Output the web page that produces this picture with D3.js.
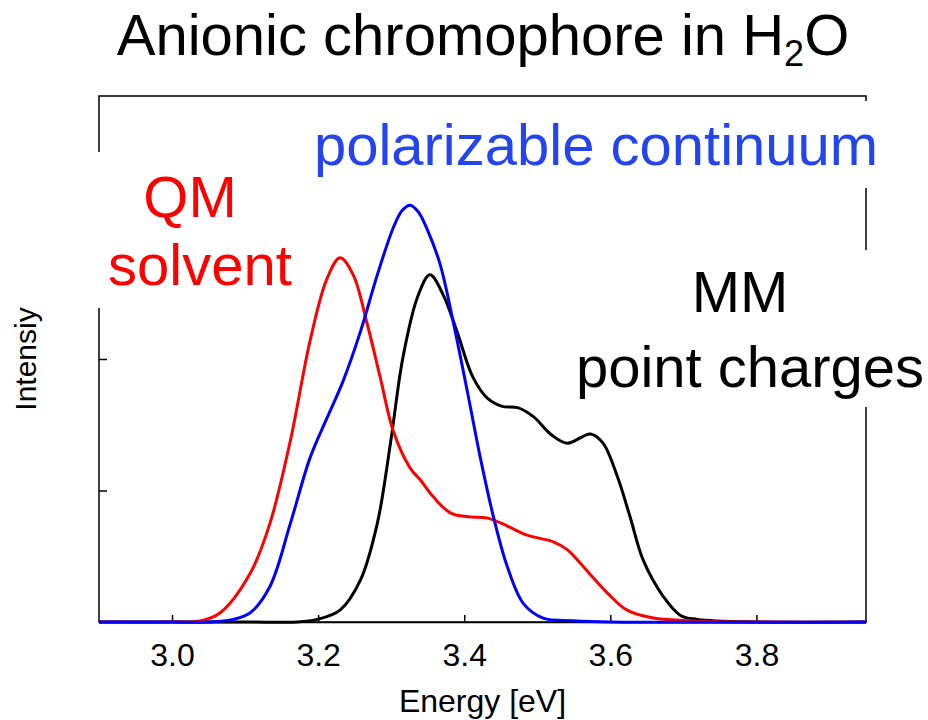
<!DOCTYPE html>
<html>
<head>
<meta charset="utf-8">
<script src="https://cdn.jsdelivr.net/npm/d3@7"></script>
<style>
  body { margin: 0; background: #fff; }
  svg { font-family: "Liberation Sans", Arial, Helvetica, sans-serif; }
</style>
</head>
<body>
<script>
// spectra (energy in eV, intensity in arbitrary units)
var qmEnergy    = [2.90, 3.00, 3.04, 3.066, 3.107, 3.134, 3.162, 3.189, 3.212, 3.230, 3.248, 3.267, 3.285, 3.303, 3.326, 3.340, 3.358, 3.381, 3.405, 3.432, 3.459, 3.486, 3.522, 3.541, 3.568, 3.596, 3.623, 3.659, 3.705, 3.80, 3.95];
var qmIntensity = [0.00, 0.00, 0.01, 0.07, 0.37, 0.75, 1.38, 2.14, 2.61, 2.77, 2.64, 2.27, 1.86, 1.45, 1.17, 1.08, 0.95, 0.83, 0.80, 0.79, 0.73, 0.66, 0.61, 0.55, 0.39, 0.22, 0.09, 0.03, 0.01, 0.00, 0.00];

var pcmEnergy    = [2.90, 3.00, 3.05, 3.084, 3.107, 3.134, 3.162, 3.189, 3.212, 3.234, 3.258, 3.281, 3.303, 3.315, 3.326, 3.337, 3.349, 3.367, 3.385, 3.404, 3.422, 3.440, 3.459, 3.481, 3.508, 3.549, 3.60, 3.95];
var pcmIntensity = [0.00, 0.00, 0.00, 0.02, 0.07, 0.27, 0.75, 1.25, 1.55, 1.83, 2.21, 2.64, 3.00, 3.13, 3.17, 3.12, 2.99, 2.72, 2.28, 1.76, 1.25, 0.80, 0.42, 0.14, 0.03, 0.01, 0.00, 0.00];

var mmEnergy    = [2.90, 3.10, 3.17, 3.199, 3.230, 3.258, 3.281, 3.299, 3.316, 3.336, 3.353, 3.371, 3.390, 3.412, 3.432, 3.452, 3.473, 3.495, 3.518, 3.541, 3.573, 3.590, 3.610, 3.627, 3.645, 3.673, 3.696, 3.719, 3.80, 3.95];
var mmIntensity = [0.00, 0.00, 0.00, 0.02, 0.09, 0.32, 0.75, 1.36, 2.01, 2.47, 2.64, 2.49, 2.21, 1.86, 1.70, 1.64, 1.63, 1.56, 1.43, 1.36, 1.43, 1.36, 1.10, 0.80, 0.47, 0.19, 0.05, 0.02, 0.00, 0.00];

var xTicks = [3.0, 3.2, 3.4, 3.6, 3.8];
var yTicks = [1, 2, 3];

var svgWidth = 928;
var svgHeight = 720;

var margin = { top: 96, right: 62, bottom: 98, left: 99 };
var chartWidth = svgWidth - margin.left - margin.right;
var chartHeight = svgHeight - margin.top - margin.bottom;

var svg = d3.select("body")
  .append("svg")
  .attr("width", svgWidth)
  .attr("height", svgHeight);

var chartGroup = svg.append("g")
  .attr("transform", `translate(${margin.left}, ${margin.top})`);

var xScale = d3.scaleLinear()
  .domain([2.9, 3.95])
  .range([0, chartWidth]);

var yScale = d3.scaleLinear()
  .domain([0, 4])
  .range([chartHeight, 0]);

// frame
chartGroup.append("rect")
  .attr("width", chartWidth)
  .attr("height", chartHeight)
  .attr("fill", "none")
  .attr("stroke", "black")
  .attr("stroke-width", 1.5);

// bottom axis, ticks pointing inwards
var bottomAxis = d3.axisBottom(xScale)
  .tickValues(xTicks)
  .tickFormat(d3.format(".1f"))
  .tickSizeInner(-7)
  .tickSizeOuter(0)
  .tickPadding(21);

var xAxisG = chartGroup.append("g")
  .attr("transform", `translate(0, ${chartHeight})`)
  .call(bottomAxis);
xAxisG.select(".domain").attr("stroke-width", 1.5);
xAxisG.selectAll(".tick line").attr("stroke-width", 1.5);
xAxisG.selectAll("text")
  .attr("font-size", "32px")
  .attr("font-family", "Liberation Sans, Arial, sans-serif")
  .attr("fill", "black");

var leftAxis = d3.axisLeft(yScale)
  .tickValues(yTicks)
  .tickFormat("")
  .tickSizeInner(-8)
  .tickSizeOuter(0);

var yAxisG = chartGroup.append("g").call(leftAxis);
yAxisG.select(".domain").remove();
yAxisG.selectAll(".tick line").attr("stroke-width", 1.5);

// white boxes behind the labels (they hide parts of the frame)
svg.append("rect").attr("x", 85).attr("y", 152).attr("width", 215).attr("height", 156).attr("fill", "white");
svg.append("rect").attr("x", 300).attr("y", 101).attr("width", 600).attr("height", 87).attr("fill", "white");
svg.append("rect").attr("x", 560).attr("y", 250).attr("width", 368).attr("height", 157).attr("fill", "white");

// spectra
var series = [
  { energy: mmEnergy, intensity: mmIntensity, color: "black" },
  { energy: qmEnergy, intensity: qmIntensity, color: "#ff0000" },
  { energy: pcmEnergy, intensity: pcmIntensity, color: "#0000ff" }
];

var drawLine = d3.line()
  .x(d => xScale(d[0]))
  .y(d => yScale(d[1]))
  .curve(d3.curveCatmullRom.alpha(0.5));

series.forEach(function (s) {
  var pts = s.energy.map((e, i) => [e, s.intensity[i]]);
  chartGroup.append("path")
    .attr("d", drawLine(pts))
    .attr("fill", "none")
    .attr("stroke", s.color)
    .attr("stroke-width", 3);
});

// title
var title = svg.append("text")
  .attr("x", 483)
  .attr("y", 55)
  .attr("text-anchor", "middle")
  .attr("font-size", "58px")
  .attr("fill", "black");
title.append("tspan").text("Anionic chromophore in H");
title.append("tspan").attr("font-size", "36px").attr("dy", 11).text("2");
title.append("tspan").attr("dy", -11).text("O");

// axis labels
svg.append("text")
  .attr("x", margin.left + xScale(3.425))
  .attr("y", 712)
  .attr("text-anchor", "middle")
  .attr("font-size", "32px")
  .attr("fill", "black")
  .text("Energy [eV]");

svg.append("text")
  .attr("transform", `translate(36, 359) rotate(-90)`)
  .attr("text-anchor", "middle")
  .attr("font-size", "30px")
  .attr("fill", "black")
  .text("Intensiy");

// curve labels
var labels = [
  { text: "QM", x: 190, y: 217, color: "#ff0000" },
  { text: "solvent", x: 200, y: 285, color: "#ff0000" },
  { text: "polarizable continuum", x: 596, y: 165, color: "#2444ee" },
  { text: "MM", x: 740, y: 312, color: "black" },
  { text: "point charges", x: 750, y: 387, color: "black" }
];

svg.selectAll(".curve-label")
  .data(labels)
  .enter()
  .append("text")
  .attr("class", "curve-label")
  .attr("x", d => d.x)
  .attr("y", d => d.y)
  .attr("text-anchor", "middle")
  .attr("font-size", "58px")
  .attr("fill", d => d.color)
  .text(d => d.text);
</script>
</body>
</html>
